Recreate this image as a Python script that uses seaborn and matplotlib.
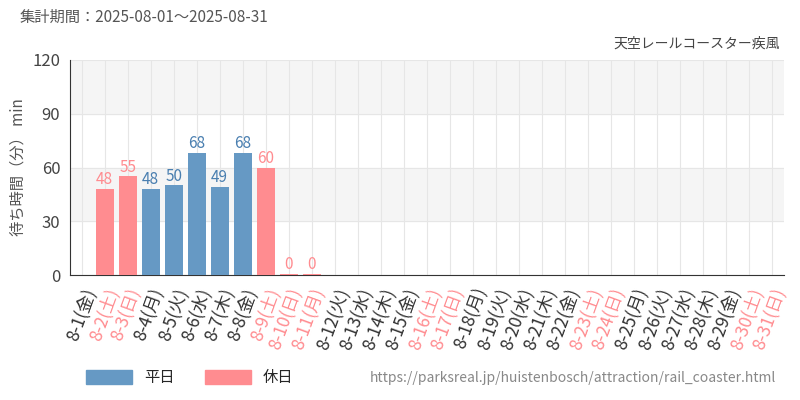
import pandas as pd
import matplotlib.pyplot as plt
import seaborn as sns
from matplotlib.patches import Patch

days = [f"8-{d}" for d in range(1, 32)]
weekdays = ["金", "土", "日", "月", "火", "水", "木"]
day_labels = [f"{d}({weekdays[i % 7]})" for i, d in enumerate(days)]
holiday_days = ["8-2", "8-3", "8-9", "8-10", "8-11", "8-16", "8-17", "8-23", "8-24", "8-30", "8-31"]
bar_days = ["8-2", "8-3", "8-4", "8-5", "8-6", "8-7", "8-8", "8-9", "8-10", "8-11"]
wait_min = [48, 55, 48, 50, 68, 49, 68, 60, 0, 0]

WEEKDAY_C = "#6699c4"
HOLIDAY_C = "#ff8c90"

sns.set_style("white")
plt.rcParams['font.family'] = ['Noto Sans CJK JP', 'DejaVu Sans']

df = pd.DataFrame({"day": bar_days, "wait": wait_min})
df["kind"] = ["休日" if d in holiday_days else "平日" for d in df["day"]]
df["plot_wait"] = df["wait"].clip(lower=0.8)

fig = plt.figure(figsize=(8, 4), dpi=100)
ax = fig.add_axes([0.0875, 0.3125, 0.8925, 0.5375])

ax.axhspan(30, 60, color="#f5f5f5", zorder=0)
ax.axhspan(90, 120, color="#f5f5f5", zorder=0)

sns.barplot(data=df, x="day", y="plot_wait", hue="kind", order=days,
            palette={"平日": WEEKDAY_C, "休日": HOLIDAY_C}, dodge=False,
            saturation=1, linewidth=0, width=0.78, ax=ax, legend=False, zorder=3)

for _, r in df.iterrows():
    i = days.index(r["day"])
    c = HOLIDAY_C if r["kind"] == "休日" else "#4a7fb0"
    ax.text(i, r["plot_wait"] + 0.5, str(r["wait"]), ha="center", va="bottom",
            color=c, fontsize=11, zorder=4)

ax.set_xlim(-0.5, 30.5)
ax.set_ylim(0, 120)
ax.set_yticks([0, 30, 60, 90, 120])
ax.tick_params(axis="y", labelsize=12, colors="#444444")
ax.set_xticks(range(31))
ax.set_xticklabels(day_labels, rotation=70, ha="right", rotation_mode="anchor", fontsize=12.5)
for lab, d in zip(ax.get_xticklabels(), days):
    lab.set_color(HOLIDAY_C if d in holiday_days else "#333333")
ax.tick_params(axis="x", length=4, color="#333333")
ax.set_xlabel("")
ax.set_ylabel("待ち時間（分） min", fontsize=11, color="#555555")
ax.grid(True, color="#e6e6e6", linewidth=0.8, zorder=1)
ax.set_axisbelow(True)
for s in ["top", "right"]:
    ax.spines[s].set_visible(False)
ax.spines["left"].set_color("#333333")
ax.spines["bottom"].set_color("#333333")

fig.text(0.025, 0.945, "集計期間：2025-08-01～2025-08-31", fontsize=11, color="#555555")
fig.text(0.975, 0.88, "天空レールコースター疾風", fontsize=10, color="#444444", ha="right")
fig.text(0.97, 0.045, "https://parksreal.jp/huistenbosch/attraction/rail_coaster.html",
         fontsize=10, color="#888888", ha="right")
fig.legend(handles=[Patch(color=WEEKDAY_C, label="平日"), Patch(color=HOLIDAY_C, label="休日")],
           loc="lower left", bbox_to_anchor=(0.09, 0.0), ncol=2, frameon=False,
           fontsize=11, handlelength=3, handleheight=1)

fig.savefig("out.png", dpi=100)
